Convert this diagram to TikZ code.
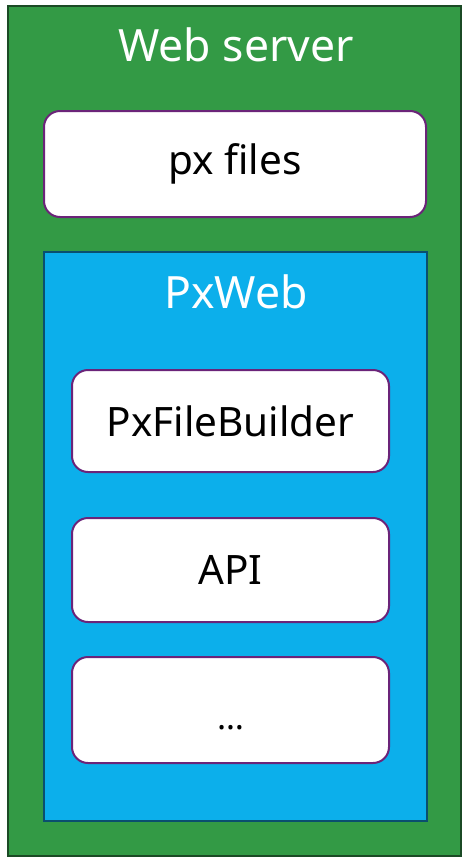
\documentclass[tikz,border=0pt]{standalone}
\usepackage{fontspec}
\setmainfont{Noto Sans}
\usetikzlibrary{positioning}
\definecolor{serverColor}{HTML}{339A45}
\definecolor{serverLine}{HTML}{1B4A25}
\definecolor{webColor}{HTML}{0CAFEB}
\definecolor{webLine}{HTML}{0A4F6E}
\definecolor{boxLine}{HTML}{6B2479}
\tikzset{
  part/.style={draw=boxLine,fill=white,line width=2pt,rounded corners=16pt,
    minimum width=317pt,minimum height=104pt,inner sep=0pt,
    font=\fontsize{40.5}{46}\selectfont},
  title/.style={text=white,inner sep=0pt,font=\fontsize{44.5}{50}\selectfont}
}

\begin{document}
\begin{tikzpicture}[x=1pt,y=-1pt]
				\useasboundingbox (0,0) rectangle (462,857);
				\node[draw=serverLine,fill=serverColor,line width=1.8pt,minimum width=453pt,minimum height=850pt,inner sep=0pt] (server) at (234.5,431) {};
				\node[title] (servertitle) at (236,45) {Web server};
				\node[part,minimum width=382pt,minimum height=106pt] (pxfiles) at (235,164) {px files};
				\node[draw=webLine,fill=webColor,line width=1.8pt,minimum width=383pt,minimum height=569pt,inner sep=0pt] (pxweb) at (235.5,536.5) {};
				\node[title] (webtitle) at (236,292) {PxWeb};
				\node[part,minimum height=102pt] (builder) at (230.5,421) {PxFileBuilder};
				\node[part] (api) at (230.5,570) {API};
				\node[part,minimum height=106pt] (more) at (230.5,710) {\vphantom{Ap}\raisebox{-10pt}{\fontsize{34}{40}\selectfont …}};
				\end{tikzpicture}
\end{document}
